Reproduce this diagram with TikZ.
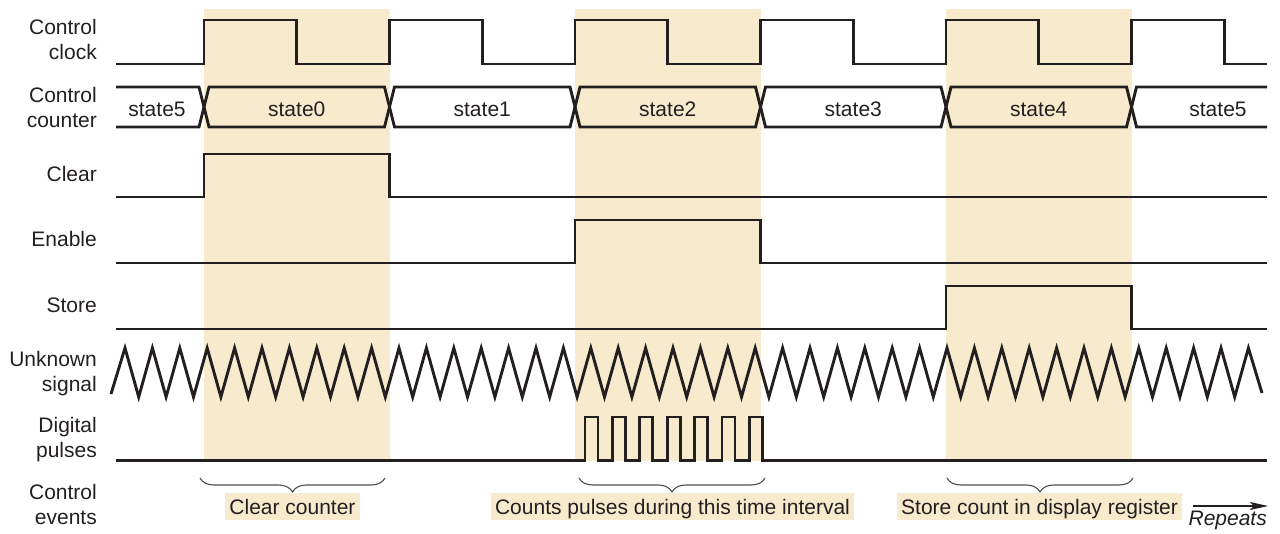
\documentclass[tikz,border=0pt]{standalone}
\usepackage{fontspec}
\setmainfont{Liberation Sans}
\usetikzlibrary{arrows.meta,decorations.pathreplacing}
\definecolor{beige}{RGB}{248,235,205}
\definecolor{ink}{RGB}{35,31,32}
\definecolor{bracecol}{RGB}{80,78,78}
\tikzset{
  sig/.style={draw=ink, line width=2.9pt, line join=miter, line cap=butt},
  lab/.style={text=ink, inner sep=0pt, anchor=base east, font=\fontsize{21}{25}\selectfont},
  stxt/.style={text=ink, inner sep=0pt, anchor=base, font=\fontsize{21}{25}\selectfont},
  evt/.style={text=ink, fill=beige, inner xsep=4pt, inner ysep=4pt, text height=17pt, text depth=2pt, anchor=base, font=\fontsize{21}{25}\selectfont},
  brc/.style={draw=bracecol, line width=1.1pt, decorate, decoration={brace, mirror, amplitude=14pt}},
}
\begin{document}
\begin{tikzpicture}[x=1pt,y=-1pt]
\useasboundingbox (0,0) rectangle (1280,534);
% shaded intervals
\fill[beige] (204,9) rectangle (389.5,461);
\fill[beige] (575,9) rectangle (760.5,461);
\fill[beige] (946,9) rectangle (1131.5,461);
% labels
\node[lab] (l1a) at (97,35) {Control};
\node[lab] (l1b) at (97,60) {clock};
\node[lab] (l2a) at (97,103) {Control};
\node[lab] (l2b) at (97,128) {counter};
\node[lab] (l3) at (97,182) {Clear};
\node[lab] (l4) at (97,247) {Enable};
\node[lab] (l5) at (97,313) {Store};
\node[lab] (l6a) at (97,367) {Unknown};
\node[lab] (l6b) at (97,392) {signal};
\node[lab] (l7a) at (97,432) {Digital};
\node[lab] (l7b) at (97,457) {pulses};
\node[lab] (l8a) at (97,499) {Control};
\node[lab] (l8b) at (97,524) {events};
% control clock
\draw[sig] (116,64) -- (204,64) -- (204,20) -- (296.75,20) -- (296.75,64)
  -- (389.5,64) -- (389.5,20) -- (482.25,20) -- (482.25,64)
  -- (575,64) -- (575,20) -- (667.75,20) -- (667.75,64)
  -- (760.5,64) -- (760.5,20) -- (853.25,20) -- (853.25,64)
  -- (946,64) -- (946,20) -- (1038.75,20) -- (1038.75,64)
  -- (1131.5,64) -- (1131.5,20) -- (1224.25,20) -- (1224.25,64) -- (1267,64);
% control counter
\draw[sig] (116,87) -- (199,87) -- (204,107) -- (199,127) -- (116,127);
\foreach \a/\b in {204/389.5, 389.5/575, 575/760.5, 760.5/946, 946/1131.5}{
  \draw[sig] (\a,107) -- ({\a+5},87) -- ({\b-5},87) -- (\b,107) -- ({\b-5},127) -- ({\a+5},127) -- cycle;
}
\draw[sig] (1267,87) -- (1136.5,87) -- (1131.5,107) -- (1136.5,127) -- (1267,127);
\node[stxt] (s5a) at (157,117) {state5};
\node[stxt] (s0) at (296.75,117) {state0};
\node[stxt] (s1) at (482.25,117) {state1};
\node[stxt] (s2) at (667.75,117) {state2};
\node[stxt] (s3) at (853.25,117) {state3};
\node[stxt] (s4) at (1038.75,117) {state4};
\node[stxt] (s5b) at (1218,117) {state5};
% clear, enable, store
\draw[sig] (116,197) -- (204,197) -- (204,154) -- (389.5,154) -- (389.5,197) -- (1267,197);
\draw[sig] (116,263) -- (575,263) -- (575,220) -- (760.5,220) -- (760.5,263) -- (1267,263);
\draw[sig] (116,329) -- (946,329) -- (946,286) -- (1131.5,286) -- (1131.5,329) -- (1267,329);
% unknown signal
\draw[sig] (111,394) \foreach \k in {0,...,40}{ -- ({125+27.4*\k},348) -- ({138.7+27.4*\k},397) } -- (1248.4,348) -- (1262,393);
% digital pulses
\draw[sig] (116,460.5) \foreach \k in {0,...,6}{ -- ({585+27.4*\k},460.5) -- ({585+27.4*\k},417) -- ({598+27.4*\k},417) -- ({598+27.4*\k},460.5) } -- (1267,460.5);
% braces
\coordinate (b1l) at (200,478); \coordinate (b1r) at (385,478);
\coordinate (b2l) at (579,478); \coordinate (b2r) at (765,478);
\coordinate (b3l) at (947,478); \coordinate (b3r) at (1133,478);
\draw[brc] (b1l) -- (b1r);
\draw[brc] (b2l) -- (b2r);
\draw[brc] (b3l) -- (b3r);
\node[evt] (e1) at (292.5,514) {Clear counter};
\node[evt] (e2) at (672.5,514) {Counts pulses during this time interval};
\node[evt] (e3) at (1039.5,514) {Store count in display register};
% repeats
\coordinate (r1) at (1193,506); \coordinate (r2) at (1268,506);
\draw[ink, line width=1.2pt, -{Stealth[length=18pt,width=8pt,inset=4pt]}] (r1) -- (r2);
\node[text=ink, inner sep=0pt, anchor=base east, font=\fontsize{21}{25}\selectfont\itshape] (rep) at (1267,525) {Repeats};
\end{tikzpicture}
\end{document}
